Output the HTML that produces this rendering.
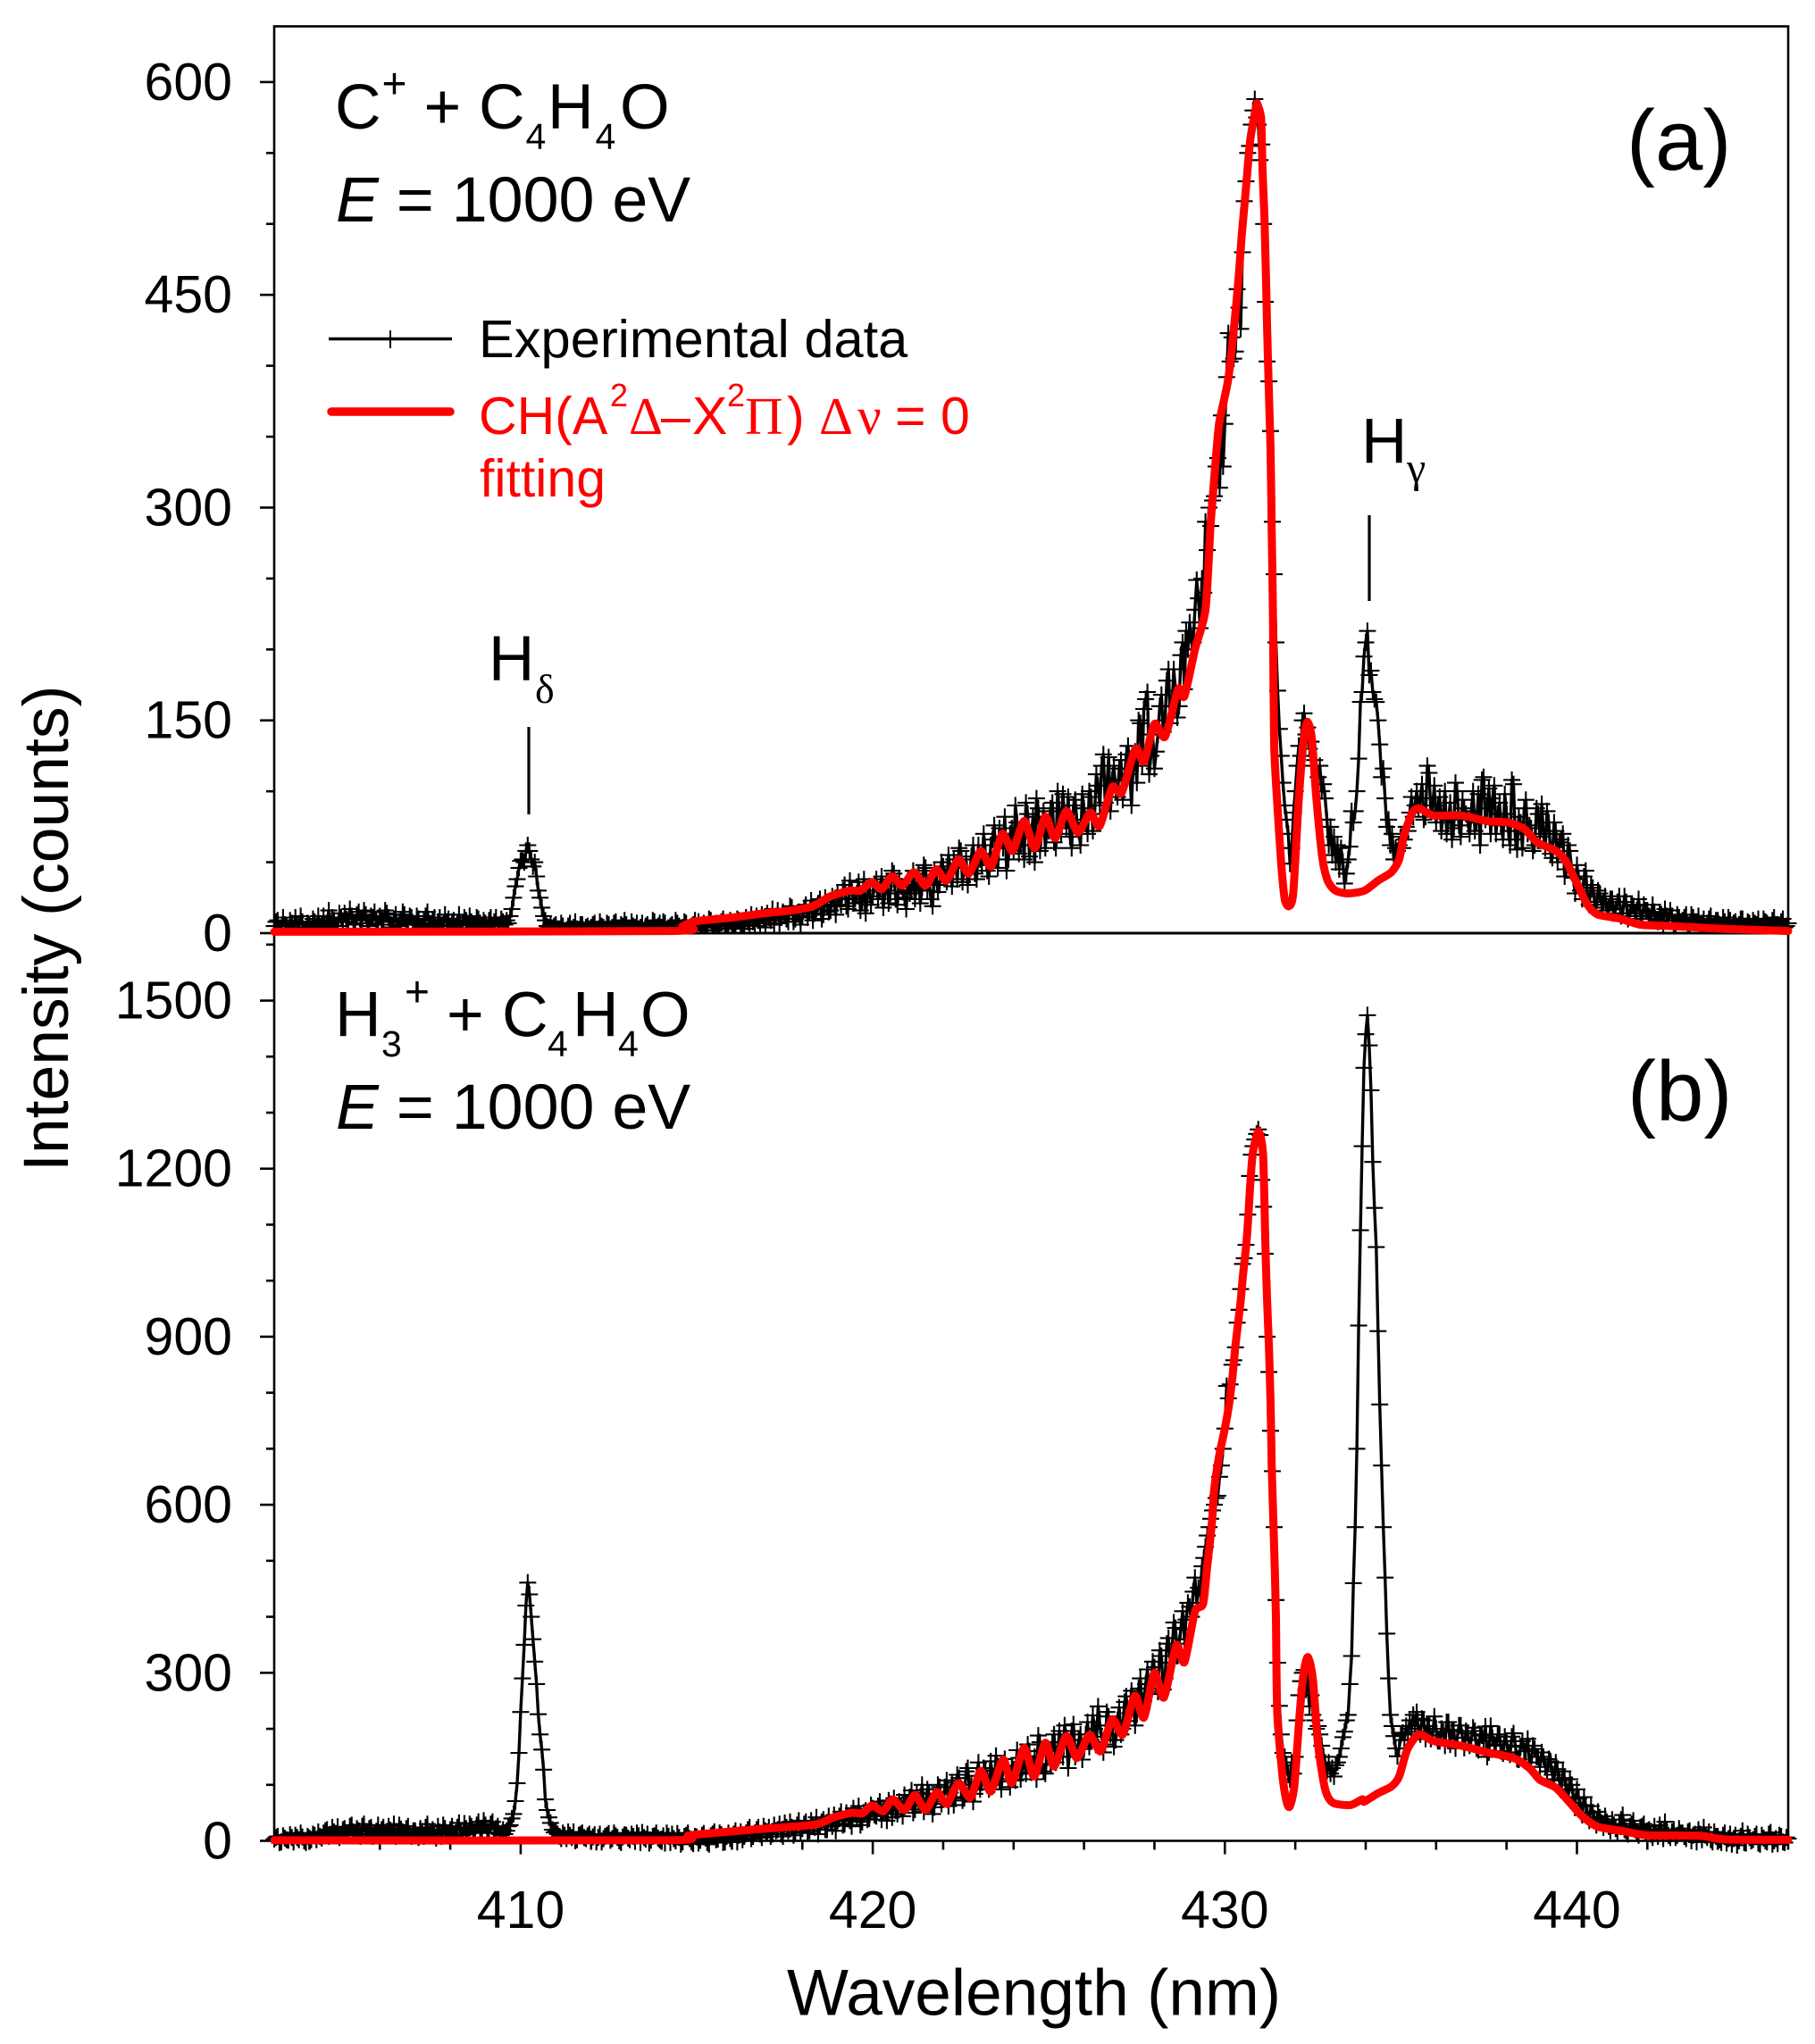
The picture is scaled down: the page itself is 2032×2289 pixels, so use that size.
<!DOCTYPE html>
<html lang="en">
<head>
<meta charset="utf-8">
<title>CH emission spectra</title>
<style>
html,body{margin:0;padding:0;background:#fff;}
svg{display:block;}
text{font-family:"Liberation Sans",Arial,sans-serif;fill:#000;}
.serif{font-family:"Liberation Serif","Times New Roman",serif;}
.red{fill:#ff0000;}
</style>
</head>
<body>
<svg id="chart" xmlns="http://www.w3.org/2000/svg" width="2032" height="2289" viewBox="0 0 2032 2289">
<rect x="0" y="0" width="2032" height="2289" fill="#fff"/>
<defs><clipPath id="clip-a"><rect x="280" y="25" width="1750" height="1020"/></clipPath></defs>
<g id="series-b"></g>
<g id="series-a"></g>
<g id="axes"></g>

<g font-size="71.5">
<text x="375" y="144">C</text><text x="427.5" y="110" font-size="48">+</text><text x="474.5" y="144">+</text><text x="536" y="144">C</text><text x="588.5" y="167" font-size="41">4</text><text x="613" y="144">H</text><text x="666.5" y="167" font-size="41">4</text><text x="694" y="144">O</text>
</g>
<text x="376" y="248" font-size="71.8" xml:space="preserve"><tspan font-style="italic">E</tspan> = 1000 eV</text>
<text x="1821" y="190" font-size="96">(a)</text>

<g>
<line x1="368" y1="379.5" x2="506" y2="379.5" stroke="#000" stroke-width="3.4"/>
<line x1="437" y1="370" x2="437" y2="390" stroke="#000" stroke-width="2"/>
<text x="536" y="400" font-size="59.6">Experimental data</text>
<line x1="371" y1="461" x2="504" y2="461" stroke="#ff0000" stroke-width="9.5" stroke-linecap="round"/>
<g font-size="59">
<text class="red" x="536" y="486">CH(A</text><text class="red" x="683" y="455" font-size="36">2</text><text class="red serif" x="704" y="486">Δ</text><text class="red" x="740" y="486">–</text><text class="red" x="775" y="486">X</text><text class="red" x="814" y="455" font-size="36">2</text><text class="red serif" x="834" y="486">Π</text><text class="red" x="881" y="486">)</text><text class="red serif" x="917" y="486">Δ</text><text class="red serif" x="960" y="486">ν</text><text class="red" x="1002" y="486">=</text><text class="red" x="1053" y="486">0</text>
<text class="red" x="537" y="556">fitting</text>
</g>
</g>

<g><text x="1524" y="518.6" font-size="71">H</text><text class="serif" x="1575" y="540" font-size="48">γ</text></g>
<line x1="1533" y1="577" x2="1533" y2="673" stroke="#000" stroke-width="3.2"/>
<g><text x="547" y="762" font-size="71">H</text><text class="serif" x="599" y="787" font-size="46">δ</text></g>
<line x1="592" y1="814" x2="592" y2="912" stroke="#000" stroke-width="3.2"/>

<g font-size="71.5">
<text x="375" y="1160.6">H</text><text x="427" y="1183" font-size="41">3</text><text x="453" y="1127" font-size="48">+</text><text x="500" y="1160.6">+</text><text x="562" y="1160.6">C</text><text x="613" y="1183" font-size="41">4</text><text x="641" y="1160.6">H</text><text x="692" y="1183" font-size="41">4</text><text x="717" y="1160.6">O</text>
</g>
<text x="376" y="1264" font-size="71.8" xml:space="preserve"><tspan font-style="italic">E</tspan> = 1000 eV</text>
<text x="1822" y="1255" font-size="96">(b)</text>

<text transform="translate(76,1312) rotate(-90)" font-size="71.5">Intensity (counts)</text>
<text x="881" y="2256.7" font-size="73">Wavelength (nm)</text>
</svg>

<script>
const wavelengths = [
403.0,403.1,403.2,403.3,403.4,403.5,403.6,403.7,403.8,403.9,
404.0,404.1,404.2,404.3,404.4,404.5,404.6,404.7,404.8,404.9,
405.0,405.1,405.2,405.3,405.4,405.5,405.6,405.7,405.8,405.9,
406.0,406.1,406.2,406.3,406.4,406.5,406.6,406.7,406.8,406.9,
407.0,407.1,407.2,407.3,407.4,407.5,407.6,407.7,407.8,407.9,
408.0,408.1,408.2,408.3,408.4,408.5,408.6,408.7,408.8,408.9,
409.0,409.1,409.2,409.3,409.4,
409.5,409.55,409.6,409.65,409.7,409.75,409.8,409.85,409.9,409.95,
410.0,410.05,410.1,410.15,410.2,410.25,410.3,410.35,410.4,410.45,
410.5,410.55,410.6,410.65,410.7,410.75,410.8,410.85,410.9,410.95,
411.0,411.1,411.2,411.3,411.4,411.5,411.6,411.7,411.8,411.9,
412.0,412.1,412.2,412.3,412.4,412.5,412.6,412.7,412.8,412.9,
413.0,413.1,413.2,413.3,413.4,413.5,413.6,413.7,413.8,413.9,
414.0,414.1,414.2,414.3,414.4,414.5,414.6,414.7,414.8,414.9,
415.0,415.1,415.2,415.3,415.4,415.5,415.6,415.7,415.8,415.9,
416.0,416.1,416.2,416.3,416.4,416.5,416.6,416.7,416.8,416.9,
417.0,417.1,417.2,417.3,417.4,417.5,417.6,417.7,417.8,417.9,
418.0,418.1,418.2,418.3,418.4,418.5,418.6,418.7,418.8,418.9,
419.0,419.1,419.2,419.3,419.4,419.5,419.6,419.7,419.8,419.9,
420.0,420.1,420.2,420.3,420.4,420.5,420.6,420.7,420.8,420.9,
421.0,421.1,421.2,421.3,421.4,421.5,421.6,421.7,421.8,421.9,
422.0,422.1,422.2,422.3,422.4,422.5,422.6,422.7,422.8,422.9,
423.0,423.1,423.2,423.3,423.4,423.5,423.6,423.7,423.8,423.9,
424.0,424.1,424.2,424.3,424.4,424.5,424.6,424.7,424.8,424.9,
425.0,425.1,425.2,425.3,425.4,425.5,425.6,425.7,425.8,425.9,
426.0,426.1,426.2,426.3,426.4,426.5,426.6,426.7,426.8,426.9,
427.0,427.1,427.2,427.3,427.4,427.5,427.6,427.7,427.8,427.9,
428.0,428.1,428.2,428.3,428.4,428.5,428.6,428.7,428.8,428.9,
429.0,429.1,
429.2,429.25,429.3,429.35,429.4,429.45,429.5,429.55,429.6,429.65,429.7,429.75,429.8,429.85,429.9,429.95,
430.0,430.05,430.1,430.15,430.2,430.25,430.3,430.35,430.4,430.45,430.5,430.55,430.6,430.65,430.7,430.75,430.8,430.85,430.9,430.95,
431.0,431.05,431.1,431.15,431.2,431.25,431.3,431.35,431.4,431.45,431.5,431.55,431.6,431.65,431.7,431.75,431.8,431.85,431.9,431.95,
432.0,432.05,432.1,432.15,432.2,432.25,432.3,432.35,432.4,432.45,432.5,432.55,432.6,432.65,432.7,432.75,432.8,432.85,432.9,432.95,
433.0,433.05,433.1,433.15,433.2,433.25,433.3,433.35,433.4,433.45,433.5,433.55,433.6,433.65,433.7,433.75,433.8,433.85,433.9,433.95,
434.0,434.05,434.1,434.15,434.2,434.25,434.3,434.35,434.4,434.45,434.5,434.55,434.6,434.65,434.7,434.75,434.8,434.85,434.9,434.95,
435.0,435.05,435.1,435.15,435.2,435.25,435.3,435.35,435.4,435.45,
435.5,435.6,435.7,435.8,435.9,
436.0,436.1,436.2,436.3,436.4,436.5,436.6,436.7,436.8,436.9,
437.0,437.1,437.2,437.3,437.4,437.5,437.6,437.7,437.8,437.9,
438.0,438.1,438.2,438.3,438.4,438.5,438.6,438.7,438.8,438.9,
439.0,439.1,439.2,439.3,439.4,439.5,439.6,439.7,439.8,439.9,
440.0,440.1,440.2,440.3,440.4,440.5,440.6,440.7,440.8,440.9,
441.0,441.1,441.2,441.3,441.4,441.5,441.6,441.7,441.8,441.9,
442.0,442.1,442.2,442.3,442.4,442.5,442.6,442.7,442.8,442.9,
443.0,443.1,443.2,443.3,443.4,443.5,443.6,443.7,443.8,443.9,
444.0,444.1,444.2,444.3,444.4,444.5,444.6,444.7,444.8,444.9,
445.0,445.1,445.2,445.3,445.4,445.5,445.6,445.7,445.8,445.9,
446.0
];
const intensityA = [
5,9,3,6,2,7,11,4,8,3,
6,10,5,4,12,7,3,9,5,11,
14,8,12,6,15,10,13,7,11,9,
12,8,14,6,10,5,9,13,7,11,
6,10,5,12,7,9,4,11,6,8,
5,9,7,3,11,6,8,5,10,4,
7,9,5,11,6,
8,6,9,7,12,17,25,33,38,46,
51,52,50,58,62,58,52,47,50,40,
30,25,18,12,9,5,4,6,3,5,
6,3,5,2,7,4,3,6,2,5,
4,7,3,5,2,6,4,8,3,5,
6,3,5,7,4,2,6,3,8,5,
4,7,3,6,9,5,4,7,3,6,
5,3,7,4,9,2,6,8,3,5,
7,4,9,5,11,6,8,12,7,10,
14,9,6,16,11,13,8,18,10,15,
12,20,15,9,17,24,13,19,16,22,
28,20,34,17,30,24,36,22,14,33,
26,38,30,18,36,28,42,20,33,25,
38,30,24,42,32,46,36,19,40,34,
47,36,44,52,38,58,46,34,54,42,
62,48,56,40,66,52,74,60,44,70,
58,78,62,52,84,68,50,88,72,60,
72,92,60,86,98,74,68,90,78,62,
88,70,96,84,104,118,92,124,108,100,
116,94,126,112,120,106,148,158,170,125,
116,140,168,150,186,160,171,160,205,213,
219,205,
249,236,215,250,240,290,270,300,287,305,308,329,335,314,365,329,
359,392,423,403,420,405,410,454,441,426,480,516,530,550,555,570,580,588,575,570,
545,556,500,445,403,389,354,290,253,205,171,144,125,106,90,80,70,49,60,85,
100,118,132,125,150,155,140,145,130,135,118,122,118,110,118,100,105,95,80,62,
75,55,68,50,62,45,60,50,35,42,52,61,86,78,86,100,123,163,170,195,
205,213,182,185,170,165,163,150,133,110,116,95,75,80,62,70,52,60,58,62,
68,60,66,75,72,85,96,82,90,100,
88,105,82,113,90,
78,96,84,70,92,74,100,68,88,80,
86,72,98,108,80,102,95,70,92,66,
84,62,105,59,78,88,70,74,62,84,
91,60,78,53,72,64,70,45,58,39,
48,30,40,26,34,22,30,20,26,18,
24,17,26,14,22,12,19,16,12,20,
16,10,15,8,13,17,9,12,7,11,
9,13,6,11,8,5,10,7,12,6,
9,5,8,11,4,8,6,10,5,7,
9,6,4,10,7,5,11,6,8,4,
7
];
const intensityB = [
3,8,-2,5,1,6,10,2,7,-3,
5,12,2,8,14,20,9,16,25,11,
22,14,28,10,18,26,12,22,8,17,
12,24,9,19,30,11,21,14,26,8,
18,6,14,24,10,20,5,16,28,12,
20,9,24,14,31,12,26,16,34,20,
28,15,34,22,12,
20,12,18,26,28,40,48,71,103,157,
230,290,350,420,461,440,400,360,320,280,
226,190,163,127,74,55,42,32,20,15,
18,8,14,4,10,16,2,12,6,9,
3,11,6,-2,8,13,4,9,0,7,
10,2,8,14,-3,6,12,1,9,5,
3,-4,8,12,0,6,-2,10,4,-5,
7,1,13,-3,9,16,3,11,-2,14,
6,18,10,2,14,24,8,20,12,26,
16,8,28,20,12,32,18,24,14,36,
22,34,18,28,42,26,38,20,32,46,
36,52,30,44,26,48,62,34,54,40,
58,44,70,50,36,66,76,48,60,82,
68,90,56,72,100,62,84,48,78,96,
74,108,86,64,118,94,76,130,100,84,
140,104,126,92,116,152,106,134,120,96,
128,162,110,142,172,122,150,188,136,120,
160,176,140,196,150,184,170,208,156,190,
164,212,180,200,240,186,172,222,206,180,
238,200,258,228,248,226,290,250,306,272,
310,266,330,290,362,340,380,352,410,395,
418,445,
425,452,440,490,505,525,545,560,575,590,600,612,616,650,670,700,
736,812,790,815,850,858,881,925,948,985,1030,1040,1064,1118,1187,1225,1240,1252,1262,1270,
1260,1180,1132,1048,900,837,732,660,560,430,318,241,190,157,150,135,118,110,140,120,
150,215,260,285,300,305,270,290,240,260,225,215,200,205,190,170,150,140,125,140,
120,130,115,135,140,150,165,185,195,215,225,280,330,460,560,700,920,1090,1240,1380,
1440,1474,1420,1340,1212,1130,1060,910,779,670,560,470,370,290,225,205,187,165,151,165,
190,193,180,205,190,215,200,225,205,230,
195,218,182,205,188,
200,178,195,212,172,198,184,206,166,192,
180,196,162,188,204,158,184,170,190,156,
178,154,192,146,168,160,182,140,164,150,
158,132,146,118,140,108,124,90,110,78,
92,64,78,50,62,40,52,32,44,26,
38,22,30,46,18,26,36,14,24,30,
18,12,26,8,20,34,10,16,6,22,
14,4,18,10,-2,12,24,6,2,16,
8,-3,14,4,-6,10,0,18,-4,6,
2,12,-6,5,-2,15,0,-5,8,-3,
4
];
const extraWavelengths = [
403.05,403.15,403.25,403.35,403.45,403.55,403.65,403.75,403.85,403.95,
404.05,404.15,404.25,404.35,404.45,404.55,404.65,404.75,404.85,404.95,
405.05,405.15,405.25,405.35,405.45,405.55,405.65,405.75,405.85,405.95,
406.05,406.15,406.25,406.35,406.45,406.55,406.65,406.75,406.85,406.95,
407.05,407.15,407.25,407.35,407.45,407.55,407.65,407.75,407.85,407.95,
408.05,408.15,408.25,408.35,408.45,408.55,408.65,408.75,408.85,408.95,
409.05,409.15,409.25,409.35,409.45,
411.05,411.15,411.25,411.35,411.45,411.55,411.65,411.75,411.85,411.95,
412.05,412.15,412.25,412.35,412.45,412.55,412.65,412.75,412.85,412.95,
413.05,413.15,413.25,413.35,413.45,413.55,413.65,413.75,413.85,413.95,
414.05,414.15,414.25,414.35,414.45,414.55,414.65,414.75,414.85,414.95,
415.05,415.15,415.25,415.35,415.45,415.55,415.65,415.75,415.85,415.95,
416.05,416.15,416.25,416.35,416.45,416.55,416.65,416.75,416.85,416.95,
417.05,417.15,417.25,417.35,417.45,417.55,417.65,417.75,417.85,417.95,
418.05,418.15,418.25,418.35,418.45,418.55,418.65,418.75,418.85,418.95,
419.05,419.15,419.25,419.35,419.45,419.55,419.65,419.75,419.85,419.95,
420.05,420.15,420.25,420.35,420.45,420.55,420.65,420.75,420.85,420.95,
421.05,421.15,421.25,421.35,421.45,421.55,421.65,421.75,421.85,421.95,
422.05,422.15,422.25,422.35,422.45,422.55,422.65,422.75,422.85,422.95,
423.05,423.15,423.25,423.35,423.45,423.55,423.65,423.75,423.85,423.95,
424.05,424.15,424.25,424.35,424.45,424.55,424.65,424.75,424.85,424.95,
425.05,425.15,425.25,425.35,425.45,425.55,425.65,425.75,425.85,425.95,
426.05,426.15,426.25,426.35,426.45,426.55,426.65,426.75,426.85,426.95,
427.05,427.15,427.25,427.35,427.45,427.55,427.65,427.75,427.85,427.95,
428.05,428.15,428.25,428.35,428.45,428.55,428.65,428.75,428.85,428.95,
429.05,429.15,
435.55,435.65,435.75,435.85,435.95,
436.05,436.15,436.25,436.35,436.45,436.55,436.65,436.75,436.85,436.95,
437.05,437.15,437.25,437.35,437.45,437.55,437.65,437.75,437.85,437.95,
438.05,438.15,438.25,438.35,438.45,438.55,438.65,438.75,438.85,438.95,
439.05,439.15,439.25,439.35,439.45,439.55,439.65,439.75,439.85,439.95,
440.05,440.15,440.25,440.35,440.45,440.55,440.65,440.75,440.85,440.95,
441.05,441.15,441.25,441.35,441.45,441.55,441.65,441.75,441.85,441.95,
442.05,442.15,442.25,442.35,442.45,442.55,442.65,442.75,442.85,442.95,
443.05,443.15,443.25,443.35,443.45,443.55,443.65,443.75,443.85,443.95,
444.05,444.15,444.25,444.35,444.45,444.55,444.65,444.75,444.85,444.95,
445.05,445.15,445.25,445.35,445.45,445.55,445.65,445.75,445.85,445.95
];
const extraIntensityA = [
8,2,11,5,9,3,6,12,2,7,
3,8,12,6,4,16,11,5,14,8,
10,17,7,13,9,16,5,12,15,6,
9,16,11,4,13,8,15,6,12,7,
12,4,9,15,6,11,8,5,13,10,
8,4,13,6,9,12,4,11,7,9,
4,11,8,5,10,
3,7,1,5,3,8,2,6,4,3,
6,2,8,4,7,3,7,2,6,9,
2,8,4,3,7,5,3,9,4,7,
8,2,5,3,7,3,8,2,5,9,
8,2,6,10,4,7,3,10,5,9,
3,10,6,3,8,13,5,9,13,4,
11,17,12,7,15,10,19,8,14,6,
17,11,23,14,21,10,25,15,26,13,
24,30,19,37,21,28,16,38,26,20,
34,24,40,30,21,44,24,38,29,17,
28,44,34,21,48,30,24,44,29,50,
40,55,33,48,60,36,52,42,62,38,
52,70,44,62,76,46,68,82,52,74,
90,56,74,92,54,82,95,58,86,74,
88,64,100,70,82,96,60,94,72,98,
80,100,72,112,90,126,104,86,118,96,
122,108,132,90,128,150,118,165,112,140,
128,160,142,178,148,186,152,196,172,200,
205,228,
95,80,118,86,104,
90,72,100,80,66,106,76,94,84,70,
100,78,62,110,88,70,104,84,76,98,
72,108,66,82,60,94,76,58,88,68,
70,86,56,78,50,66,40,62,44,28,
38,24,44,20,32,18,28,22,16,24,
14,22,12,26,10,20,14,24,10,16,
12,20,9,14,6,12,16,6,13,8,
11,5,13,8,12,7,4,10,5,9,
6,11,5,9,7,3,10,5,8,4,
7,10,5,8,3,9,6,4,10,5
];
const extraIntensityB = [
6,-3,9,2,11,-2,6,14,0,8,
2,10,16,5,18,8,24,13,6,20,
12,26,16,22,8,30,16,24,12,28,
20,10,26,14,8,28,16,22,10,18,
10,22,8,30,16,12,26,8,22,14,
26,14,32,10,22,30,14,28,18,36,
14,30,20,26,10,
12,4,10,16,6,0,10,14,4,12,
7,-2,12,4,10,1,14,6,-3,11,
5,12,-1,9,15,3,-4,8,14,2,
9,14,-3,4,13,-6,8,14,-2,8,
-4,10,5,-6,12,2,14,-3,8,4,
12,-2,16,8,20,4,14,24,6,18,
24,12,18,30,8,24,34,10,28,16,
30,14,36,24,12,34,20,44,26,18,
44,28,50,36,58,40,28,50,38,64,
46,62,38,56,72,42,54,70,44,68,
78,50,86,64,52,92,70,60,100,66,
96,62,104,78,112,72,124,90,70,116,
92,130,110,142,100,128,92,146,110,130,
108,148,130,120,160,138,110,176,124,160,
136,190,150,168,206,130,196,150,180,145,
190,168,224,176,206,158,230,190,168,215,
190,248,214,268,206,272,236,280,262,320,
286,340,270,352,318,390,330,378,360,425,
400,470,
190,215,205,182,222,
178,200,170,212,196,165,206,184,196,170,
202,165,190,178,150,205,172,190,160,186,
158,186,170,145,178,160,140,170,150,132,
150,124,142,110,128,92,112,78,100,68,
76,46,64,36,50,28,42,24,34,18,
28,14,38,20,12,30,20,10,26,14,
20,6,14,28,4,18,6,20,10,14,
8,16,0,12,20,2,10,16,-2,8,
2,10,-4,12,4,-8,8,-3,12,0,
8,-4,10,0,12,-6,4,10,-2,6
];
const fitWavelengthsA = [403,414.2,414.6,414.97,416,416.9,417.7,418.3,418.8,419.35,419.65,419.97,420.25,420.55,420.84,421.17,421.5,421.8,422.09,422.44,422.73,423.07,423.36,423.68,423.97,424.3,424.6,424.9,425.18,425.5,425.83,426.18,426.44,426.8,427.07,427.46,427.7,428,428.3,428.67,428.85,429.15,429.45,429.59,429.67,429.76,429.84,429.97,430.1,430.2,430.3,430.4,430.48,430.57,430.63,430.72,430.89,430.93,431.03,431.07,431.12,431.16,431.2,431.25,431.3,431.33,431.37,431.4,431.49,431.6,431.7,431.82,431.94,432.09,432.24,432.35,432.47,432.6,432.77,432.92,433.14,433.5,433.97,434.35,434.73,434.95,435.1,435.33,435.52,435.93,436.7,437.45,438.05,438.5,438.87,439.4,439.7,440,440.3,440.6,441.2,441.8,442.7,444.2,446];
const fitIntensityA = [1,1.5,5,8.4,11,14,16,19,26,30,30,36,31,40,33.5,43,33.5,45,37,52,42,58,47,70,58,79,60,82,67,86,71,85,75.5,103,99,130,121,147.5,138.5,172,167,200,228,286,312,339,360,375,391,412,437,465,492,517,534,559,583,584,574,538,507,471,427,381,339,286,217,133,91,49,24,19,28,91,137,149,137,95,53,37,30,28,30,37,43,52,70,85,88,83,83,79,78,73.5,64,58,50,35,20,13,10.4,6,5,3,1.5];
const fitWavelengthsB = [403,414.1,414.8,416.57,418.35,418.88,419.41,419.7,419.98,420.3,420.57,420.9,421.2,421.5,421.82,422.1,422.44,422.77,423.07,423.35,423.7,423.95,424.3,424.58,424.9,425.15,425.5,425.8,426.15,426.47,426.8,427.1,427.44,427.7,428,428.27,428.62,428.85,429.15,429.38,429.5,429.63,429.7,429.84,430,430.12,430.22,430.3,430.38,430.45,430.51,430.6,430.66,430.72,430.8,430.96,431.08,431.12,431.16,431.2,431.25,431.3,431.33,431.38,431.42,431.45,431.49,431.64,431.75,431.84,431.97,432.12,432.24,432.36,432.5,432.65,432.85,433.07,433.57,433.9,433.96,434.35,434.73,434.95,435.18,435.51,435.93,436.7,437.45,438.2,438.65,438.95,439.4,439.8,440.15,440.6,441.35,441.97,443.5,444.2,446];
const fitIntensityB = [1,1,10,20,29,42,50,49,63,53,74,55,82,55,87,66,103,77,125,88,145,103,166,115,175,133,187,148,189,160,217,190,259,220,300,256,349,319,409,423,491,566,629,688,736,779,831,884,927,964,1007,1060,1108,1171,1230,1267,1230,1150,1044,964,884,779,672,566,481,397,228,115,71,61,97,223,301,328,289,170,92,68,64,74,70,85,97,115,163,190,178,170,158,148,130,109,95,68,44,25,17,10,9,2.5,2];

const xTickLabels = [410,420,430,440];
const xMinorTicks = [404,406,408,412,414,416,418,422,424,426,428,432,434,436,438,442,444,446];
const yTickLabelsA = [0,150,300,450,600];
const yMinorTicksA = [50,100,200,250,350,400,500,550];
const yTickLabelsB = [0,300,600,900,1200,1500];
const yMinorTicksB = [100,200,400,500,700,800,1000,1100,1300,1400,1600];

const NS = 'http://www.w3.org/2000/svg';
const xAxisMin = 403, xAxisMax = 446, plotLeft = 307, plotRight = 2002;
const baseA = 1045, perCountA = 1.5885;
const baseB = 2061.5, perCountB = 0.6273;
function xScale(w){ return plotLeft + (w - xAxisMin) * (plotRight - plotLeft) / (xAxisMax - xAxisMin); }
function yScaleA(v){ return baseA - v * perCountA; }
function yScaleB(v){ return baseB - v * perCountB; }

function make(tag, attrs, parent){
  const el = document.createElementNS(NS, tag);
  for (const k in attrs) el.setAttribute(k, attrs[k]);
  parent.appendChild(el);
  return el;
}
function mergeSeries(xs1, ys1, xs2, ys2){
  const pts = [];
  for (let i = 0; i < xs1.length; i++) pts.push([xs1[i], ys1[i]]);
  for (let i = 0; i < xs2.length; i++) pts.push([xs2[i], ys2[i]]);
  pts.sort((a, b) => a[0] - b[0]);
  return {xs: pts.map(p => p[0]), ys: pts.map(p => p[1])};
}
function linePath(xs, ys, yScale){
  let d = '';
  for (let i = 0; i < xs.length; i++) {
    d += (i ? 'L' : 'M') + xScale(xs[i]).toFixed(1) + ' ' + yScale(ys[i]).toFixed(1);
  }
  return d;
}
function markerPath(xs, ys, yScale){
  let d = '';
  for (let i = 0; i < xs.length; i++) {
    const x = xScale(xs[i]), y = yScale(ys[i]);
    d += 'M' + (x - 9.5).toFixed(1) + ' ' + y.toFixed(1) + 'h19M' + x.toFixed(1) + ' ' + (y - 9.5).toFixed(1) + 'v19';
  }
  return d;
}
function smoothPath(xs, ys, yScale){
  const p = xs.map((x, i) => [xScale(x), yScale(ys[i])]);
  let d = 'M' + p[0][0].toFixed(1) + ' ' + p[0][1].toFixed(1);
  for (let i = 0; i < p.length - 1; i++) {
    const a = p[Math.max(i - 1, 0)], b = p[i], c = p[i + 1], e = p[Math.min(i + 2, p.length - 1)];
    const k = 0.12;
    d += 'C' + (b[0] + (c[0] - a[0]) * k).toFixed(1) + ' ' + (b[1] + (c[1] - a[1]) * k).toFixed(1) + ' ' +
         (c[0] - (e[0] - b[0]) * k).toFixed(1) + ' ' + (c[1] - (e[1] - b[1]) * k).toFixed(1) + ' ' +
         c[0].toFixed(1) + ' ' + c[1].toFixed(1);
  }
  return d;
}

const seriesA = document.getElementById('series-a');
const seriesB = document.getElementById('series-b');
const axes = document.getElementById('axes');
const mergedA = mergeSeries(wavelengths, intensityA, extraWavelengths, extraIntensityA);
const mergedB = mergeSeries(wavelengths, intensityB, extraWavelengths, extraIntensityB);

const expLineB = make('path', {d: linePath(mergedB.xs, mergedB.ys, yScaleB), fill: 'none', stroke: '#000', 'stroke-width': 3.4, 'stroke-linejoin': 'round'}, seriesB);


const expMarksB = make('path', {d: markerPath(mergedB.xs, mergedB.ys, yScaleB), fill: 'none', stroke: '#000', 'stroke-width': 2.1}, seriesB);



const clipA = make('g', {'clip-path': 'url(#clip-a)'}, seriesA);


const expLineA = make('path', {d: linePath(mergedA.xs, mergedA.ys, yScaleA), fill: 'none', stroke: '#000', 'stroke-width': 3.4, 'stroke-linejoin': 'round'}, clipA);


const expMarksA = make('path', {d: markerPath(mergedA.xs, mergedA.ys, yScaleA), fill: 'none', stroke: '#000', 'stroke-width': 2.1}, clipA);



function drawAxis(){
  const frame = make('rect', {x: plotLeft, y: 29.5, width: plotRight - plotLeft, height: baseB - 29.5, fill: 'none', stroke: '#000', 'stroke-width': 2.6}, axes);
  
  
  const divider = make('line', {x1: plotLeft, x2: plotRight, y1: baseA, y2: baseA, stroke: '#000', 'stroke-width': 3}, axes);
  
  

  yTickLabelsA.forEach(v => {
    const t = make('line', {x1: 291, x2: plotLeft, y1: yScaleA(v), y2: yScaleA(v), stroke: '#000', 'stroke-width': 2.6}, axes);
    
    
    const l = make('text', {x: 260, y: yScaleA(v) + 20, 'font-size': 59, 'text-anchor': 'end'}, axes);
    
    
    l.textContent = v;
  });
  yMinorTicksA.forEach(v => {
    const t = make('line', {x1: 298, x2: plotLeft, y1: yScaleA(v), y2: yScaleA(v), stroke: '#000', 'stroke-width': 2.6}, axes);
    
    
  });
  yTickLabelsB.forEach(v => {
    const t = make('line', {x1: 291, x2: plotLeft, y1: yScaleB(v), y2: yScaleB(v), stroke: '#000', 'stroke-width': 2.6}, axes);
    
    
    const l = make('text', {x: 260, y: yScaleB(v) + 20, 'font-size': 59, 'text-anchor': 'end'}, axes);
    
    
    l.textContent = v;
  });
  yMinorTicksB.forEach(v => {
    const t = make('line', {x1: 298, x2: plotLeft, y1: yScaleB(v), y2: yScaleB(v), stroke: '#000', 'stroke-width': 2.6}, axes);
    
    
  });
  xTickLabels.forEach(v => {
    const t = make('line', {x1: xScale(v), x2: xScale(v), y1: baseB, y2: baseB + 15, stroke: '#000', 'stroke-width': 2.6}, axes);
    
    
    const l = make('text', {x: xScale(v), y: 2159, 'font-size': 59, 'text-anchor': 'middle'}, axes);
    
    
    l.textContent = v;
  });
  xMinorTicks.forEach(v => {
    const t = make('line', {x1: xScale(v), x2: xScale(v), y1: baseB, y2: baseB + 10, stroke: '#000', 'stroke-width': 2.6}, axes);
    
    
  });
}
drawAxis();

const fitLineA = make('path', {d: smoothPath(fitWavelengthsA, fitIntensityA, yScaleA), fill: 'none', stroke: '#ff0000', 'stroke-width': 9, 'stroke-linejoin': 'round', 'stroke-linecap': 'round'}, axes);


const fitLineB = make('path', {d: smoothPath(fitWavelengthsB, fitIntensityB, yScaleB), fill: 'none', stroke: '#ff0000', 'stroke-width': 9, 'stroke-linejoin': 'round', 'stroke-linecap': 'round'}, axes);


</script>
</body>
</html>
